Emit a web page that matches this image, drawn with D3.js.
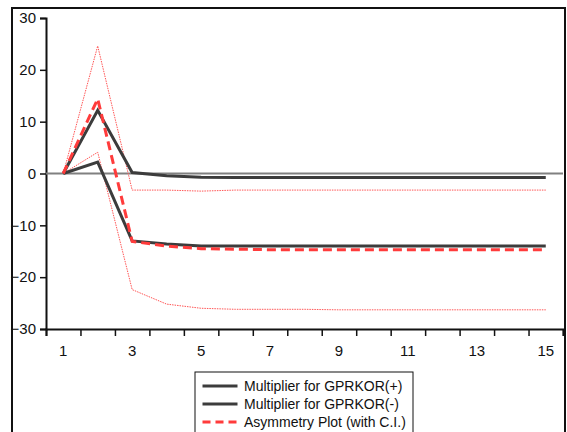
<!DOCTYPE html>
<html>
<head>
<meta charset="utf-8">
<script src="https://cdn.jsdelivr.net/npm/d3@7"></script>
<style>
  body { margin: 0; background: #fff; }
  text { font-family: "Liberation Sans", Arial, sans-serif; fill: #111; }
</style>
</head>
<body>
<div id="chart"></div>
<script>
// horizon values
const periods = d3.range(1, 16);
const multPos = [0, 12.2, 0.2, -0.45, -0.7, -0.75, -0.75, -0.75, -0.75, -0.75, -0.75, -0.75, -0.75, -0.75, -0.75];
const multNeg = [0, 2.2, -13.0, -13.6, -14.0, -14.0, -14.0, -14.0, -14.0, -14.0, -14.0, -14.0, -14.0, -14.0, -14.0];
const asym    = [0, 14.4, -13.1, -14.0, -14.5, -14.6, -14.7, -14.7, -14.7, -14.7, -14.7, -14.7, -14.7, -14.7, -14.7];
const ciUpper = [0, 24.6, -3.2, -3.2, -3.4, -3.2, -3.2, -3.2, -3.2, -3.2, -3.2, -3.2, -3.2, -3.2, -3.2];
const ciLower = [0, 4.1, -22.4, -25.2, -26.0, -26.2, -26.2, -26.2, -26.3, -26.3, -26.3, -26.3, -26.3, -26.3, -26.3];
const yTicks = [30, 20, 10, 0, -10, -20, -30];
const xLabels = [1, 3, 5, 7, 9, 11, 13, 15];
const legendLabels = ["Multiplier for GPRKOR(+)", "Multiplier for GPRKOR(-)", "Asymmetry Plot (with C.I.)"];

const W = 567, H = 432;
const svg = d3.select("#chart").append("svg").attr("width", W).attr("height", H);

// outer frame
svg.append("rect").attr("x", 12).attr("y", 8).attr("width", 553).attr("height", 440)
  .attr("fill", "none").attr("stroke", "#111").attr("stroke-width", 2);

const x = d3.scaleLinear().domain([0.5, 15.5]).range([46, 563]);
const y = d3.scaleLinear().domain([-30, 30]).range([329, 18]);

// y axis
const yAxis = svg.append("g").attr("transform", "translate(46,0)")
  .call(d3.axisLeft(y).tickValues(yTicks).tickSize(6).tickPadding(4));
yAxis.select(".domain").attr("stroke", "#111").attr("stroke-width", 2);
yAxis.selectAll(".tick line").attr("stroke", "#111").attr("stroke-width", 1.5);
yAxis.selectAll("text").attr("font-size", 15).attr("fill", "#111")
  .attr("font-family", "Liberation Sans, Arial, sans-serif");

// x axis: ticks between periods, labels on odd periods
const xAxis = svg.append("g").attr("transform", "translate(0,329)")
  .call(d3.axisBottom(x).tickValues(d3.range(0.5, 15.6, 1)).tickSize(7).tickFormat(""));
xAxis.select(".domain").attr("stroke", "#111").attr("stroke-width", 2);
xAxis.selectAll(".tick line").attr("stroke", "#111").attr("stroke-width", 1.5);
svg.append("g").selectAll("text").data(xLabels).join("text")
  .attr("x", d => x(d)).attr("y", 356).attr("text-anchor", "middle")
  .attr("font-size", 15).text(d => d);

// zero line
svg.append("line").attr("x1", 46).attr("x2", 563).attr("y1", y(0)).attr("y2", y(0))
  .attr("stroke", "#808080").attr("stroke-width", 2);

const line = d3.line().x((d, i) => x(periods[i])).y(d => y(d));

const series = [
  {v: ciUpper, color: "#ff5555", w: 1, dash: "1.5,1"},
  {v: ciLower, color: "#ff5555", w: 1, dash: "1.5,1"},
  {v: multPos, color: "#3c3c3c", w: 3, dash: null},
  {v: multNeg, color: "#3c3c3c", w: 3, dash: null},
  {v: asym, color: "#ff3b3b", w: 3, dash: "9,5"}
];
svg.append("g").selectAll("path").data(series).join("path")
  .attr("d", d => line(d.v)).attr("fill", "none")
  .attr("stroke", d => d.color).attr("stroke-width", d => d.w)
  .attr("stroke-dasharray", d => d.dash)
  .attr("stroke-linejoin", "miter");

// legend
const lg = svg.append("g").attr("transform", "translate(195,372)");
lg.append("rect").attr("width", 218).attr("height", 80)
  .attr("fill", "#fff").attr("stroke", "#111").attr("stroke-width", 1);
const legendStyle = [
  {color: "#3c3c3c", dash: null},
  {color: "#3c3c3c", dash: null},
  {color: "#ff3b3b", dash: "8,5"}
];
const rows = lg.selectAll("g").data(legendLabels).join("g")
  .attr("transform", (d, i) => `translate(0,${14 + i * 18})`);
rows.append("line").attr("x1", 7.5).attr("x2", 42.5)
  .attr("stroke", (d, i) => legendStyle[i].color).attr("stroke-width", 3)
  .attr("stroke-dasharray", (d, i) => legendStyle[i].dash);
rows.append("text").attr("x", 49).attr("y", 5).attr("font-size", 14).text(d => d);
</script>
</body>
</html>
